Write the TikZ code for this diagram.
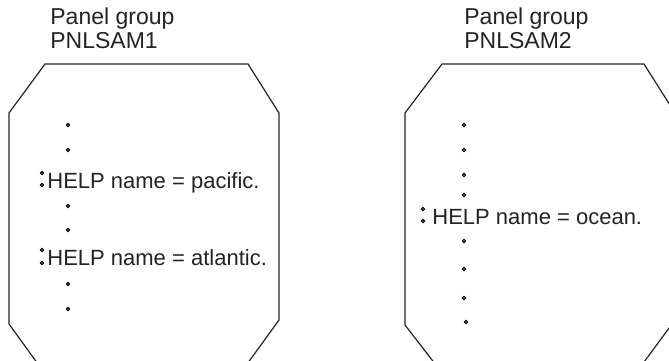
\documentclass[tikz,border=0pt]{standalone}
\usepackage{fontspec}
\setsansfont{Liberation Sans}
\usetikzlibrary{positioning}
\definecolor{ink}{RGB}{35,35,35}
\tikzset{
  frame/.style={draw=ink,line width=0.6pt,line join=miter},
  grptitle/.style={inner sep=0pt,anchor=base west,text=ink,
    font=\sffamily\fontsize{11.5}{13.8}\selectfont},
  helpline/.style={inner sep=0pt,anchor=base west,text=ink,
    font=\sffamily\fontsize{11}{13.2}\selectfont},
  dotmark/.style={draw=black,fill=ink!25,line width=0.5pt},
}
\newcommand{\vdot}[1]{\filldraw[dotmark] #1 circle[radius=0.8pt];}

\begin{document}
\begin{tikzpicture}[x=0.5pt,y=-0.5pt]
  \useasboundingbox (0,0) rectangle (669,360);
  \clip (0,0) rectangle (669,360);
  % panel group 1
  \node[grptitle] (grp1) at (50,24) {Panel group};
  \node[grptitle] (sam1) at (50,48) {PNLSAM1};
  \draw[frame] (45,64) -- (248,64) -- (279,113) -- (279,320) -- (221,400)
    -- (64,400) -- (9,324) -- (9,113) -- cycle;
  \foreach \y in {125,150,206,230,284,309} {\vdot{(68,\y)}}
  \foreach \y in {173,185,250,263} {\vdot{(42,\y)}}
  \node[helpline] (pacific) at (47,188) {HELP name = pacific.};
  \node[helpline] (atlantic) at (47,265) {HELP name = atlantic.};
  % panel group 2
  \node[grptitle] (grp2) at (464,24) {Panel group};
  \node[grptitle] (sam2) at (464,48) {PNLSAM2};
  \draw[frame] (442,64) -- (644,64) -- (675,113) -- (675,320) -- (616,400)
    -- (463,400) -- (405,325) -- (405,113) -- cycle;
  \foreach \y in {125,150,175,195,241,269,298} {\vdot{(464,\y)}}
  \vdot{(466,322)}
  \foreach \y in {209,221} {\vdot{(423,\y)}}
  \node[helpline] (ocean) at (432,224) {HELP name = ocean.};
\end{tikzpicture}
\end{document}
